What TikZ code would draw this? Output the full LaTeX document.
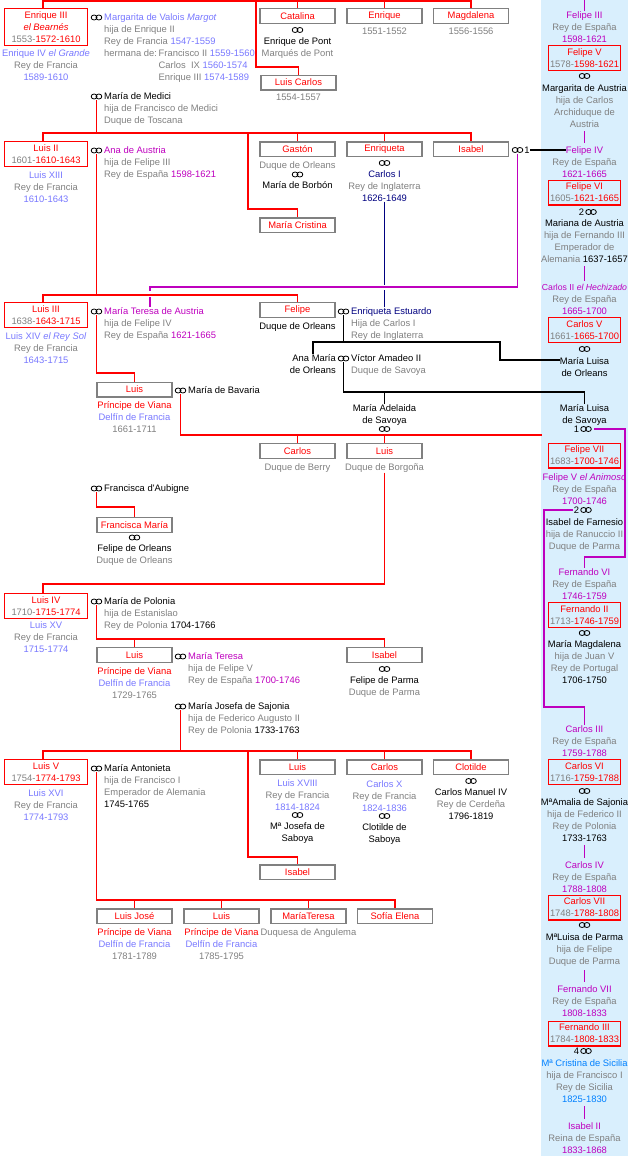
\documentclass[tikz,border=0pt]{standalone}
\usepackage{fontspec}
\setmainfont{Liberation Sans}
\usepackage{xcolor}

\definecolor{kred}{RGB}{255,0,0}
\definecolor{kgray}{RGB}{128,128,128}
\definecolor{klb}{RGB}{120,120,255}
\definecolor{kmag}{RGB}{190,0,190}
\definecolor{knavy}{RGB}{0,0,128}
\definecolor{kblue}{RGB}{0,128,255}
\definecolor{colbg}{RGB}{217,239,253}

\newcommand{\rd}[1]{\textcolor{kred}{#1}}
\newcommand{\gy}[1]{\textcolor{kgray}{#1}}
\newcommand{\lb}[1]{\textcolor{klb}{#1}}
\newcommand{\mg}[1]{\textcolor{kmag}{#1}}
\newcommand{\bk}[1]{\textcolor{black}{#1}}
\newcommand{\nv}[1]{\textcolor{knavy}{#1}}
\newcommand{\cb}[1]{\textcolor{kblue}{#1}}

\begin{document}
\begin{tikzpicture}[x=1pt,y=-1pt,font=\fontsize{9.4}{12}\selectfont,
  box/.style={draw=kgray,line width=1.3pt,minimum width=75pt,minimum height=14.7pt,inner sep=0pt,text=kred},
  kbox/.style={box,draw=kred,minimum width=82.7pt,minimum height=24.7pt,align=center},
  rbox/.style={kbox,minimum width=71.4pt},
  txt/.style={anchor=north,inner sep=0pt,align=center,yshift=3.6pt,text=kgray},
  ltxt/.style={txt,anchor=north west,align=left},
  rtxt/.style={txt,anchor=north east,align=right},
  num/.style={inner sep=0.4pt,text=black},
  wed/.style={minimum width=12pt,minimum height=7pt,inner sep=0pt,
    path picture={\draw[line width=0.8pt]
      ([xshift=-2.4pt]path picture bounding box.center) ellipse [x radius=2.9pt,y radius=2.5pt]
      ([xshift=2.4pt]path picture bounding box.center) ellipse [x radius=2.9pt,y radius=2.5pt];}},
  rl/.style={draw=kred,line width=1.1pt},
  ml/.style={draw=kmag,line width=1.1pt},
  mv/.style={ml,shorten <=3.5pt,shorten >=3pt},
  bl/.style={draw=black,line width=1.1pt},
  nl/.style={draw=knavy,line width=1.1pt}]
\useasboundingbox (0,0) rectangle (628,1156);
% Spanish column
\fill[colbg] (541,0) rectangle (628,1156);
\coordinate (ctop) at (584.5,0);
\node[txt] (f3) at (584.5,15) {\mg{Felipe III}\\Rey de España\\\mg{1598-1621}};
\draw[ml] (f3.north) -- (ctop);
\node[rbox] (fel5) at (584.5,58) {Felipe V\\\gy{1578-}1598-1621};
\node[wed] (w4) at (584.5,76) {};
\node[txt] (marga) at (584.5,88) {\bk{Margarita de Austria}\\hija de Carlos\\Archiduque de\\Austria};
\node[txt] (f4) at (584.5,150) {\mg{Felipe IV}};
\node[txt] (f4t) at (584.5,162) {Rey de España\\\mg{1621-1665}};
\draw[mv] (marga.south) -- (f4.north);
\node[rbox] (fel6) at (584.5,192.5) {Felipe VI\\\gy{1605-}1621-1665};
\node[wed,label={[num]left:2}] (w5) at (591,212) {};
\node[txt] (mari) at (584.5,223) {\bk{Mariana de Austria}\\hija de Fernando III\\Emperador de\\Alemania \bk{1637-1657}};
\node[txt] (c2r) at (584.5,288) {{\fontsize{8.7}{12}\selectfont\mg{Carlos II \textit{el Hechizado}}}\\Rey de España\\\mg{1665-1700}};
\draw[mv] (mari.south) -- (c2r.north);
\node[rbox] (carl5) at (584.5,330) {Carlos V\\\gy{1661-}1665-1700};
\node[wed] (w6) at (584.5,349) {};
\node[txt] (mlo) at (584.5,361) {\bk{María Luisa}\\\bk{de Orleans}};
\node[txt] (mls) at (584.5,408) {\bk{María Luisa}\\\bk{de Savoya}};
\node[wed,label={[num]left:1}] (w7) at (586,429) {};
\node[rbox] (fel7) at (584.5,455.5) {Felipe VII\\\gy{1683-}1700-1746};
\node[txt] (f5) at (584.5,477) {\mg{Felipe V \textit{el Animoso}}\\Rey de España\\\mg{1700-1746}};
\node[wed,label={[num,name=n8]left:2}] (w8) at (586,510) {};
\node[txt] (farn) at (584.5,522) {\bk{Isabel de Farnesio}\\hija de Ranuccio II\\Duque de Parma};
\node[txt] (fe6) at (584.5,572) {\mg{Fernando VI}\\Rey de España\\\mg{1746-1759}};
\node[rbox] (fer2) at (584.5,615) {Fernando II\\\gy{1713-}1746-1759};
\node[wed] (w9) at (584.5,633) {};
\node[txt] (mmag) at (584.5,644) {\bk{María Magdalena}\\hija de Juan V\\Rey de Portugal\\\bk{1706-1750}};
\node[txt] (ca3) at (584.5,729) {\mg{Carlos III}\\Rey de España\\\mg{1759-1788}};
\node[rbox] (carl6) at (584.5,772) {Carlos VI\\\gy{1716-}1759-1788};
\node[wed] (w10) at (584.5,791) {};
\node[txt] (mama) at (584.5,802) {\bk{MªAmalia de Sajonia}\\hija de Federico II\\Rey de Polonia\\\bk{1733-1763}};
\node[txt] (ca4) at (584.5,865) {\mg{Carlos IV}\\Rey de España\\\mg{1788-1808}};
\draw[mv] (mama.south) -- (ca4.north);
\node[rbox] (carl7) at (584.5,907.5) {Carlos VII\\\gy{1748-}1788-1808};
\node[wed] (w11) at (584.5,925) {};
\node[txt] (mlp) at (584.5,937) {\bk{MªLuisa de Parma}\\hija de Felipe\\Duque de Parma};
\node[txt] (fe7) at (584.5,989) {\mg{Fernando VII}\\Rey de España\\\mg{1808-1833}};
\draw[mv] (mlp.south) -- (fe7.north);
\node[rbox] (fer3) at (584.5,1033.5) {Fernando III\\\gy{1784-}1808-1833};
\node[wed,label={[num]left:4}] (w12) at (586,1051) {};
\node[txt] (mcs) at (584.5,1063) {\cb{Mª Cristina de Sicilia}\\hija de Francisco I\\Rey de Sicilia\\\cb{1825-1830}};
\node[txt] (is2) at (584.5,1126) {\mg{Isabel II}\\Reina de España\\\mg{1833-1868}};
\draw[mv] (mcs.south) -- (is2.north);
\coordinate (c6) at (625,557);
\coordinate (c7) at (544,707);
\draw[ml,shorten <=2pt] (w7.east) -| (c6) -| (fe6.north);
\draw[ml] (n8.west) -| (c7) -| (ca3.north);

% Enrique III de Navarra
\node[kbox,minimum height=36.7pt] (enr3) at (46,27) {Enrique III\\\textit{el Bearnés}\\\gy{1553-}1572-1610};
\node[txt] (enr3t) at (46,53) {\lb{Enrique IV \textit{el Grande}}\\Rey de Francia\\\lb{1589-1610}};
\node[wed] (w1) at (96.5,17.5) {};
\node[ltxt] (marg) at (104,17) {\lb{Margarita de Valois \textit{Margot}}\\hija de Enrique II\\Rey de Francia \lb{1547-1559}\\hermana de:};
\node[ltxt] (margb) at (158.5,53) {Francisco II \lb{1559-1560}\\Carlos\ \ IX \lb{1560-1574}\\Enrique III \lb{1574-1589}};
\node[wed] (w2) at (96.5,96.5) {};
\node[ltxt] (medi) at (104,96) {\bk{María de Medici}\\hija de Francisco de Medici\\Duque de Toscana};
\node[box] (cata) at (297.5,16) {Catalina};
\node[wed] (w3) at (297.5,30) {};
\node[txt] (pont) at (297.5,41) {\bk{Enrique de Pont}\\Marqués de Pont};
\node[box] (enri) at (384.5,16) {Enrique};
\node[txt] (enrit) at (384.5,31) {1551-1552};
\node[box] (magd) at (471,16) {Magdalena};
\node[txt] (magdt) at (471,31) {1556-1556};
\node[box] (lcar) at (298.5,82.5) {Luis Carlos};
\node[txt] (lcart) at (298.5,97) {1554-1557};
\coordinate (g1) at (43,1);
\coordinate (c1) at (256,67);
\draw[rl] (g1 |- enr3.north) -- (g1) -- (magd.north |- g1) -- (magd.north);
\foreach \n in {cata,enri} \draw[rl] (\n.north) -- (\n.north |- g1);
\draw[rl] (c1 |- g1) -- (c1) -| (lcar.north);

% Luis XIII
\node[kbox] (luis2) at (46,154) {Luis II\\\gy{1601-}1610-1643};
\node[txt] (luis2t) at (46,175) {\lb{Luis XIII}\\Rey de Francia\\\lb{1610-1643}};
\node[wed] (wAna) at (96.5,150.5) {};
\node[ltxt] (ana) at (104,150) {\mg{Ana de Austria}\\hija de Felipe III\\Rey de España \mg{1598-1621}};
\node[box] (gast) at (297.5,149.3) {Gastón};
\node[txt] (gastt) at (297.5,165) {Duque de Orleans};
\node[wed] (wGa) at (297.5,174.5) {};
\node[txt] (borb) at (297.5,185) {\bk{María de Borbón}};
\node[box] (enrq) at (384.5,149.3) {Enriqueta};
\node[wed] (wEq) at (384.5,163) {};
\node[txt] (carI) at (384.5,174) {\nv{Carlos I}\\Rey de Inglaterra\\\nv{1626-1649}};
\node[box] (isab) at (471,149.3) {Isabel};
\node[wed,label={[num,name=n1]right:1}] (wIs) at (517.5,150) {};
\node[box] (mcri) at (297.5,225.3) {María Cristina};
\coordinate (g2) at (43,133);
\coordinate (c2) at (248,209);
\draw[rl] (w2.south) -- (w2.south |- g2);
\draw[rl] (g2 |- luis2.north) -- (g2) -- (isab.north |- g2) -- (isab.north);
\foreach \n in {gast,enrq} \draw[rl] (\n.north) -- (\n.north |- g2);
\draw[rl] (c2 |- g2) -- (c2) -| (mcri.north);
\draw[bl] (n1.east) -- (n1.east -| f4.west);

% Luis XIV
\node[kbox] (luis3) at (46,315) {Luis III\\\gy{1638-}1643-1715};
\node[txt] (luis3t) at (46,336) {\lb{Luis XIV \textit{el Rey Sol}}\\Rey de Francia\\\lb{1643-1715}};
\node[wed] (wMT) at (96.5,311.5) {};
\node[ltxt] (mta) at (104,311) {\mg{María Teresa de Austria}\\hija de Felipe IV\\Rey de España \mg{1621-1665}};
\node[box] (delf) at (134.5,389.5) {Luis};
\node[txt] (delft) at (134.5,405) {\rd{Príncipe de Viana}\\\lb{Delfín de Francia}\\1661-1711};
\node[wed] (wMB) at (180.5,390.5) {};
\node[ltxt] (bava) at (188,390) {\bk{María de Bavaria}};
\node[box] (felo) at (297.5,310) {Felipe};
\node[txt] (felot) at (297.5,326) {\bk{Duque de Orleans}};
\node[wed] (wEE) at (343.5,311.5) {};
\node[ltxt] (ee) at (351,311) {\nv{Enriqueta Estuardo}\\Hija de Carlos I\\Rey de Inglaterra};
\node[rtxt] (anam) at (336,358) {\bk{Ana María}\\\bk{de Orleans}};
\node[wed] (wVA) at (343.5,358.5) {};
\node[ltxt] (vict) at (351,358) {\bk{Víctor Amadeo II}\\Duque de Savoya};
\node[txt] (made) at (384.5,408) {\bk{María Adelaida}\\\bk{de Savoya}};
\node[wed] (wAd) at (384.5,429) {};
\node[box] (berr) at (297.5,451) {Carlos};
\node[txt] (berrt) at (297.5,467) {Duque de Berry};
\node[box] (borg) at (384.5,451) {Luis};
\node[txt] (borgt) at (384.5,467) {Duque de Borgoña};
\node[wed] (wFA) at (96.5,488.5) {};
\node[ltxt] (aubi) at (104,488) {\bk{Francisca d\textquotesingle Aubigne}};
\node[box] (fmar) at (134.5,525) {Francisca María};
\node[wed] (wFM) at (134.5,537.5) {};
\node[txt] (felor) at (134.5,548) {\bk{Felipe de Orleans}\\Duque de Orleans};
% crossing lines
\coordinate (c3) at (150,287);
\coordinate (h1) at (150,291);
\coordinate (h2) at (150,297);
\draw[ml] (wIs.south) |- (c3) -- (h1);
\draw[ml] (h2) -- (h2 |- mta.north);
\coordinate (h3) at (384.5,285);
\coordinate (h4) at (384.5,290);
\draw[nl] (carI.south) -- (h3) (h4) -- (h4 |- ee.north);
\coordinate (g3) at (43,295);
\draw[rl] (wAna.south) -- (wAna.south |- g3);
\draw[rl] (g3 |- luis3.north) -- (g3) -| (felo.north);
\coordinate (c8) at (96.5,373);
\draw[rl] (wMT.south) -- (c8) -| (delf.north);
\coordinate (g6) at (542,435);
\draw[rl] (wMB.south) |- (g6);
\foreach \n in {berr,borg} \draw[rl] (\n.north) -- (\n.north |- g6);
\coordinate (g4) at (313,342);
\coordinate (c4) at (500,360);
\draw[bl] (wEE.south) -- (wEE.south |- g4);
\draw[bl] (g4 |- anam.north) -- (g4) -| (c4) -- (c4 -| mlo.west);
\coordinate (g5) at (343.5,392);
\draw[bl] (wVA.south) -- (g5) -| (mls.north);
\draw[bl] (made.north) -- (made.north |- g5);
\coordinate (c9) at (96.5,507);
\draw[rl] (wFA.south) -- (c9) -| (fmar.north);

% Luis XV
\node[kbox] (luis4) at (46,606) {Luis IV\\\gy{1710-}1715-1774};
\node[txt] (luis4t) at (46,625) {\lb{Luis XV}\\Rey de Francia\\\lb{1715-1774}};
\node[wed] (wMP) at (96.5,601.5) {};
\node[ltxt] (polo) at (104,601) {\bk{María de Polonia}\\hija de Estanislao\\Rey de Polonia \bk{1704-1766}};
\node[box] (delf2) at (134.5,655) {Luis};
\node[txt] (delf2t) at (134.5,671) {\rd{Príncipe de Viana}\\\lb{Delfín de Francia}\\1729-1765};
\node[wed] (wMTe) at (180.5,656.5) {};
\node[ltxt] (mter) at (188,656) {\mg{María Teresa}\\hija de Felipe V\\Rey de España \mg{1700-1746}};
\node[box] (isa2) at (384.5,655) {Isabel};
\node[wed] (wIP) at (384.5,669) {};
\node[txt] (parm) at (384.5,680) {\bk{Felipe de Parma}\\Duque de Parma};
\node[wed] (wMJ) at (180.5,706.5) {};
\node[ltxt] (mjos) at (188,706) {\bk{María Josefa de Sajonia}\\hija de Federico Augusto II\\Rey de Polonia \bk{1733-1763}};
\coordinate (g7) at (43,584);
\draw[rl] (borgt.south) |- (g7) -- (g7 |- luis4.north);
\coordinate (g8) at (96.5,639);
\draw[rl] (wMP.south) -- (g8) -| (isa2.north);
\draw[rl] (delf2.north) -- (delf2.north |- g8);

% Luis XVI
\node[kbox] (luis5) at (46,772) {Luis V\\\gy{1754-}1774-1793};
\node[txt] (luis5t) at (46,793) {\lb{Luis XVI}\\Rey de Francia\\\lb{1774-1793}};
\node[wed] (wMA) at (96.5,768.5) {};
\node[ltxt] (anto) at (104,768) {\bk{María Antonieta}\\hija de Francisco I\\Emperador de Alemania\\\bk{1745-1765}};
\node[box] (luis18) at (297.5,767.3) {Luis};
\node[txt] (luis18t) at (297.5,783) {\lb{Luis XVIII}\\Rey de Francia\\\lb{1814-1824}};
\node[wed] (wJS) at (297.5,815) {};
\node[txt] (jsab) at (297.5,826) {\bk{Mª Josefa de}\\\bk{Saboya}};
\node[box] (carX) at (384.5,767.3) {Carlos};
\node[txt] (carXt) at (384.5,784) {\lb{Carlos X}\\Rey de Francia\\\lb{1824-1836}};
\node[wed] (wCS) at (384.5,816) {};
\node[txt] (csab) at (384.5,827) {\bk{Clotilde de}\\\bk{Saboya}};
\node[box] (clot) at (471,767.3) {Clotilde};
\node[wed] (wCM) at (471,781) {};
\node[txt] (cman) at (471,792) {\bk{Carlos Manuel IV}\\Rey de Cerdeña\\\bk{1796-1819}};
\node[box] (isa3) at (297.5,872.3) {Isabel};
\coordinate (g9) at (43,751);
\draw[rl] (wMJ.south) -- (wMJ.south |- g9);
\draw[rl] (g9 |- luis5.north) -- (g9) -| (clot.north);
\foreach \n in {luis18,carX} \draw[rl] (\n.north) -- (\n.north |- g9);
\coordinate (c10) at (248,857);
\draw[rl] (c10 |- g9) -- (c10) -| (isa3.north);

% hijos de Luis XVI
\node[box] (ljos) at (134.5,916.3) {Luis José};
\node[txt] (ljost) at (134.5,932) {\rd{Príncipe de Viana}\\\lb{Delfín de Francia}\\1781-1789};
\node[box] (lu17) at (221.5,916.3) {Luis};
\node[txt] (lu17t) at (221.5,932) {\rd{Príncipe de Viana}\\\lb{Delfín de Francia}\\1785-1795};
\node[box] (mter2) at (308.5,916.3) {MaríaTeresa};
\node[txt] (mter2t) at (308.5,932) {Duquesa de Angulema};
\node[box] (sofi) at (395,916.3) {Sofía Elena};
\coordinate (g10) at (96.5,900);
\draw[rl] (wMA.south) -- (g10) -| (sofi.north);
\foreach \n in {ljos,lu17,mter2} \draw[rl] (\n.north) -- (\n.north |- g10);
\end{tikzpicture}
\end{document}
